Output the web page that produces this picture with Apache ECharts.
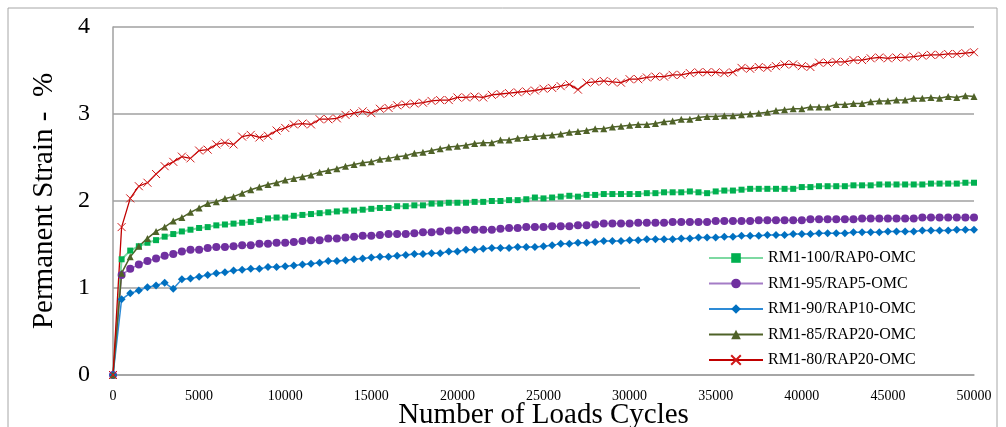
<!DOCTYPE html>
<html lang="en">
<head>
    <meta charset="UTF-8">
    <title>Permanent strain vs load cycles</title>
    <script src="https://cdn.jsdelivr.net/npm/echarts@6/dist/echarts.min.js"></script>
</head>
<body style="margin: 0; background: #fff">
<div id="chart" style="width: 1006px; height: 427px"></div>
<script>
    // load cycles: 0, 500, 1000 ... 50000
    let cycles = [];
    for (let i = 0; i <= 100; i++) cycles.push(i * 500);

    let xTicks = [0, 5000, 10000, 15000, 20000, 25000, 30000, 35000, 40000, 45000, 50000];
    let yTicks = [0, 1, 2, 3, 4];

    let names = ['RM1-100/RAP0-OMC', 'RM1-95/RAP5-OMC', 'RM1-90/RAP10-OMC', 'RM1-85/RAP20-OMC', 'RM1-80/RAP20-OMC'];

    let rap0 = [0, 1.33, 1.43, 1.48, 1.52, 1.55, 1.59, 1.62, 1.65, 1.67, 1.69, 1.70, 1.72, 1.73, 1.74, 1.75, 1.76, 1.78, 1.80, 1.81,
        1.81, 1.83, 1.84, 1.85, 1.86, 1.87, 1.88, 1.89, 1.89, 1.90, 1.91, 1.92, 1.92, 1.94, 1.94, 1.95, 1.95, 1.97, 1.97, 1.98,
        1.98, 1.98, 1.99, 1.99, 2.00, 2.00, 2.01, 2.01, 2.02, 2.04, 2.03, 2.04, 2.05, 2.06, 2.05, 2.07, 2.07, 2.08, 2.08, 2.08,
        2.08, 2.08, 2.09, 2.09, 2.10, 2.10, 2.10, 2.11, 2.10, 2.09, 2.11, 2.12, 2.12, 2.13, 2.14, 2.14, 2.14, 2.14, 2.14, 2.14,
        2.16, 2.16, 2.17, 2.17, 2.17, 2.17, 2.18, 2.18, 2.18, 2.19, 2.19, 2.19, 2.19, 2.19, 2.19, 2.20, 2.20, 2.20, 2.20, 2.21, 2.21];

    let rap5 = [0, 1.15, 1.22, 1.27, 1.31, 1.34, 1.37, 1.39, 1.42, 1.44, 1.44, 1.46, 1.47, 1.47, 1.48, 1.49, 1.49, 1.51, 1.51, 1.52,
        1.52, 1.53, 1.54, 1.55, 1.55, 1.57, 1.57, 1.58, 1.59, 1.60, 1.60, 1.61, 1.62, 1.62, 1.62, 1.63, 1.64, 1.64, 1.65, 1.66,
        1.66, 1.67, 1.67, 1.67, 1.67, 1.68, 1.69, 1.69, 1.70, 1.70, 1.70, 1.71, 1.71, 1.71, 1.72, 1.72, 1.73, 1.74, 1.74, 1.74,
        1.74, 1.75, 1.75, 1.75, 1.75, 1.76, 1.76, 1.76, 1.76, 1.76, 1.77, 1.77, 1.77, 1.77, 1.77, 1.78, 1.78, 1.78, 1.78, 1.78,
        1.78, 1.79, 1.79, 1.79, 1.79, 1.79, 1.79, 1.80, 1.80, 1.80, 1.80, 1.80, 1.80, 1.80, 1.81, 1.81, 1.81, 1.81, 1.81, 1.81, 1.81];

    let rap10 = [0, 0.87, 0.94, 0.97, 1.01, 1.03, 1.06, 0.99, 1.10, 1.11, 1.13, 1.15, 1.17, 1.18, 1.20, 1.21, 1.22, 1.22, 1.24, 1.24,
        1.25, 1.26, 1.27, 1.28, 1.29, 1.31, 1.31, 1.32, 1.33, 1.34, 1.35, 1.36, 1.36, 1.37, 1.38, 1.39, 1.39, 1.40, 1.40, 1.42,
        1.42, 1.44, 1.44, 1.45, 1.46, 1.46, 1.46, 1.47, 1.47, 1.47, 1.48, 1.49, 1.51, 1.51, 1.52, 1.52, 1.53, 1.54, 1.54, 1.54,
        1.55, 1.55, 1.56, 1.56, 1.56, 1.56, 1.57, 1.57, 1.58, 1.58, 1.58, 1.59, 1.59, 1.60, 1.60, 1.60, 1.61, 1.61, 1.61, 1.62,
        1.62, 1.62, 1.63, 1.63, 1.63, 1.63, 1.64, 1.64, 1.64, 1.64, 1.65, 1.65, 1.65, 1.65, 1.66, 1.66, 1.66, 1.66, 1.67, 1.67, 1.67];

    let rap20a = [0, 1.17, 1.36, 1.48, 1.57, 1.65, 1.70, 1.77, 1.81, 1.87, 1.92, 1.97, 1.99, 2.03, 2.05, 2.09, 2.13, 2.16, 2.19, 2.21,
        2.24, 2.26, 2.28, 2.30, 2.33, 2.35, 2.37, 2.40, 2.42, 2.44, 2.45, 2.48, 2.49, 2.51, 2.52, 2.55, 2.56, 2.58, 2.60, 2.62,
        2.63, 2.64, 2.66, 2.67, 2.67, 2.70, 2.70, 2.72, 2.73, 2.74, 2.75, 2.76, 2.77, 2.79, 2.80, 2.81, 2.83, 2.83, 2.85, 2.86,
        2.87, 2.88, 2.88, 2.89, 2.91, 2.92, 2.94, 2.94, 2.96, 2.97, 2.97, 2.98, 2.98, 2.99, 3.00, 3.01, 3.02, 3.04, 3.05, 3.06,
        3.06, 3.08, 3.08, 3.08, 3.11, 3.11, 3.12, 3.12, 3.14, 3.15, 3.15, 3.16, 3.16, 3.18, 3.18, 3.19, 3.18, 3.20, 3.19, 3.21, 3.20];

    let rap20b = [0, 1.70, 2.03, 2.17, 2.21, 2.31, 2.40, 2.45, 2.51, 2.49, 2.58, 2.59, 2.65, 2.67, 2.65, 2.74, 2.76, 2.73, 2.75, 2.81,
        2.84, 2.88, 2.89, 2.88, 2.94, 2.94, 2.95, 2.99, 3.01, 3.03, 3.01, 3.06, 3.07, 3.10, 3.11, 3.12, 3.13, 3.15, 3.16, 3.16,
        3.19, 3.19, 3.20, 3.19, 3.22, 3.23, 3.24, 3.25, 3.26, 3.27, 3.29, 3.30, 3.32, 3.34, 3.28, 3.36, 3.37, 3.38, 3.37, 3.36,
        3.40, 3.40, 3.42, 3.43, 3.43, 3.45, 3.45, 3.47, 3.48, 3.48, 3.48, 3.47, 3.48, 3.53, 3.52, 3.54, 3.53, 3.55, 3.57, 3.57,
        3.55, 3.54, 3.59, 3.59, 3.60, 3.60, 3.62, 3.62, 3.64, 3.65, 3.64, 3.65, 3.65, 3.66, 3.67, 3.68, 3.68, 3.69, 3.69, 3.70, 3.71];

    function pairs(vals) {
        return cycles.map(function (c, i) { return [c, vals[i]]; });
    }

    let serif = 'Liberation Serif';
    let crossPath = 'path://M0,0L10,10M10,0L0,10';

    function mkSeries(name, vals, symbol, size, color, lineColor, lineWidth) {
        return {
            name: name,
            type: 'line',
            data: pairs(vals),
            symbol: symbol,
            symbolSize: size,
            showAllSymbol: true,
            lineStyle: {color: lineColor, width: lineWidth},
            itemStyle: {color: color},
            emphasis: {disabled: true}
        };
    }

    let series = [
        mkSeries(names[0], rap0, 'rect', 6, '#00B050', '#7ED9A2', 2),
        mkSeries(names[1], rap5, 'circle', 8, '#7030A0', '#A47CC6', 1.5),
        mkSeries(names[2], rap10, 'diamond', 8, '#0070C0', '#2E8BD6', 1.5),
        mkSeries(names[3], rap20a, 'triangle', 7, '#4F6228', '#4F6228', 1.5),
        mkSeries(names[4], rap20b, crossPath, 8, '#D01818', '#C00000', 1.3)
    ];
    series[4].itemStyle = {color: '#D01818', borderColor: '#D01818', borderWidth: 1};

    let chart = echarts.init(document.getElementById('chart'));
    chart.setOption({
        animation: false,
        grid: {left: 113, right: 32, top: 27, bottom: 52, outerBoundsMode: 'none'},
        graphic: [
            {type: 'rect', shape: {x: 8, y: 8, width: 989, height: 440}, z: 0,
                style: {fill: 'none', stroke: '#a6a6a6', lineWidth: 1}},
            // legend panel hides the 1 % gridline
            {type: 'rect', shape: {x: 640, y: 245, width: 336, height: 128}, z: 1,
                style: {fill: '#fff'}}
        ],
        legend: {
            orient: 'vertical',
            left: 703,
            top: 245,
            itemWidth: 54,
            itemHeight: 12,
            itemGap: 9.5,
            textStyle: {fontFamily: serif, fontSize: 16, color: '#000'},
            data: names
        },
        xAxis: {
            type: 'value',
            min: xTicks[0],
            max: xTicks[xTicks.length - 1],
            interval: 5000,
            name: 'Number of Loads Cycles',
            nameLocation: 'middle',
            nameGap: 26,
            nameMoveOverlap: false,
            nameTextStyle: {fontFamily: serif, fontSize: 29, color: '#000'},
            axisLine: {lineStyle: {color: '#a0a0a0', width: 1.5}},
            axisTick: {show: false},
            axisLabel: {fontFamily: serif, fontSize: 14, color: '#000', margin: 14,
                formatter: function (v) { return String(v); }},
            splitLine: {show: false}
        },
        yAxis: {
            type: 'value',
            min: yTicks[0],
            max: yTicks[yTicks.length - 1],
            interval: 1,
            name: 'Permanent Strain -  %',
            nameLocation: 'middle',
            nameGap: 54,
            nameMoveOverlap: false,
            nameTextStyle: {fontFamily: serif, fontSize: 29, color: '#000'},
            axisLine: {show: true, lineStyle: {color: '#a0a0a0', width: 1.5}},
            axisTick: {show: false},
            axisLabel: {fontFamily: serif, fontSize: 24, color: '#000', margin: 23},
            splitLine: {show: true, lineStyle: {color: '#a0a0a0', width: 1.5}}
        },
        series: series
    });
</script>
</body>
</html>
